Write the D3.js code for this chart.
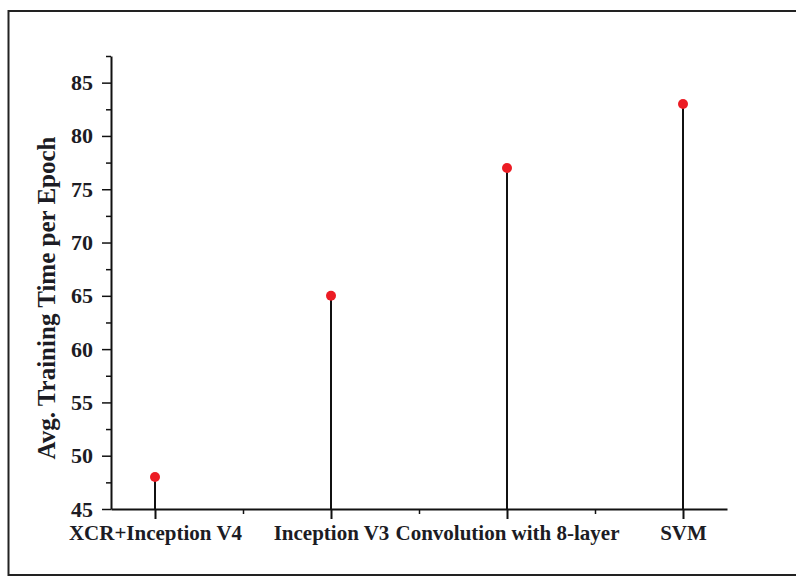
<!DOCTYPE html>
<html lang="en">
<head>
    <meta charset="UTF-8">
    <title>Avg. Training Time per Epoch</title>
    <script src="https://cdn.jsdelivr.net/npm/d3@7/dist/d3.min.js"></script>
    <style>
        body { margin: 0; background: #fff; }
        text { font-family: "Liberation Serif", "Times New Roman", serif; font-weight: bold; fill: #1c1c24; }
    </style>
</head>
<body>
<script type="text/javascript">
    var width = 796;
    var height = 577;

    // data
    var models = ["XCR+Inception V4", "Inception V3", "Convolution with 8-layer", "SVM"];
    var times = [48, 65, 77, 83];
    var yTicks = [45, 50, 55, 60, 65, 70, 75, 80, 85];
    var yMinor = [47.5, 52.5, 57.5, 62.5, 67.5, 72.5, 77.5, 82.5, 87.5];
    var xMinor = [1.5, 2.5, 3.5];

    var svg = d3.select('body').append('svg')
            .attr('width', width)
            .attr('height', height);

    // frame around the figure
    svg.append('rect')
            .attr('x', 8.5).attr('y', 11)
            .attr('width', 800).attr('height', 564)
            .attr('fill', 'none')
            .attr('stroke', '#222')
            .attr('stroke-width', 2);

    var x = d3.scaleLinear().domain([0.75, 4.25]).range([111, 727]);
    var y = d3.scaleLinear().domain([45, 87.5]).range([509, 56]);

    // stems
    svg.selectAll('line.stem')
            .data(times)
            .enter()
            .append('line')
            .attr('class', 'stem')
            .attr('x1', function (d, i) { return x(i + 1); })
            .attr('x2', function (d, i) { return x(i + 1); })
            .attr('y1', function (d) { return y(d); })
            .attr('y2', y(45))
            .attr('stroke', '#111')
            .attr('stroke-width', 2);

    // minor ticks first, labels off
    svg.append('g')
            .attr('transform', 'translate(' + x.range()[0] + ',0)')
            .call(d3.axisLeft(y).tickValues(yMinor).tickSize(5).tickFormat(''))
            .call(function (g) { g.select('.domain').remove(); })
            .selectAll('line').attr('stroke', '#111').attr('stroke-width', 1.5);

    svg.append('g')
            .attr('transform', 'translate(0,' + y.range()[0] + ')')
            .call(d3.axisBottom(x).tickValues(xMinor).tickSize(5).tickFormat(''))
            .call(function (g) { g.select('.domain').remove(); })
            .selectAll('line').attr('stroke', '#111').attr('stroke-width', 1.5);

    // y axis
    var yAxis = svg.append('g')
            .attr('transform', 'translate(' + x.range()[0] + ',0)')
            .call(d3.axisLeft(y).tickValues(yTicks).tickSize(9).tickSizeOuter(0).tickPadding(9));
    yAxis.select('.domain').attr('stroke', '#111').attr('stroke-width', 2);
    yAxis.selectAll('line').attr('stroke', '#111').attr('stroke-width', 1.5);
    yAxis.selectAll('text')
            .attr('font-family', '"Liberation Serif", serif')
            .attr('font-size', 22)
            .attr('fill', '#1c1c24');

    // x axis
    var xAxis = svg.append('g')
            .attr('transform', 'translate(0,' + y.range()[0] + ')')
            .call(d3.axisBottom(x).tickValues([1, 2, 3, 4]).tickSize(10).tickSizeOuter(0).tickPadding(6)
                    .tickFormat(function (d) { return models[d - 1]; }));
    xAxis.select('.domain').attr('stroke', '#111').attr('stroke-width', 2);
    xAxis.selectAll('line').attr('stroke', '#111').attr('stroke-width', 2);
    xAxis.selectAll('text')
            .attr('font-family', '"Liberation Serif", serif')
            .attr('font-size', 21)
            .attr('fill', '#1c1c24');

    // markers
    svg.selectAll('circle.pt')
            .data(times)
            .enter()
            .append('circle')
            .attr('class', 'pt')
            .attr('cx', function (d, i) { return x(i + 1); })
            .attr('cy', function (d) { return y(d); })
            .attr('r', 5)
            .attr('fill', '#ec1c24');

    // axis title
    svg.append('text')
            .attr('transform', 'translate(55,298) rotate(-90)')
            .attr('text-anchor', 'middle')
            .attr('font-size', 25)
            .text('Avg. Training Time per Epoch');
</script>
</body>
</html>
